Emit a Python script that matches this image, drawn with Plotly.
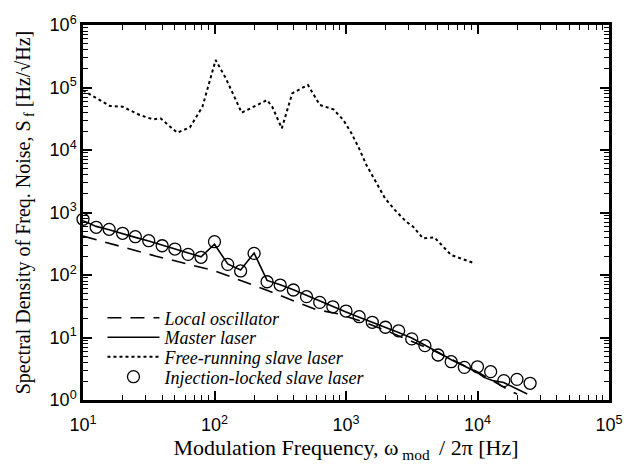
import plotly.graph_objects as go

# ---- data ----
lo_x = [10, 36, 100, 250, 590, 870, 1440, 2000, 4700, 10000, 17800, 20000]
lo_y = [420, 200, 117, 57, 28, 24, 17, 13, 6.1, 2.8, 1.39, 1.25]

master_x = [10, 12.6, 15.8, 20, 25, 31.6, 40, 50, 63, 79, 100, 126, 158, 200, 251, 316, 398,
            501, 631, 794, 1000, 1259, 1585, 1995, 2512, 3162, 3981, 5012, 6310, 7943, 10000,
            11200, 13000, 15800, 19950, 23900]
master_y = [740, 600, 530, 455, 400, 350, 300, 262, 222, 195, 310, 150, 120, 225, 82, 70, 58,
            47, 38, 31, 25.5, 21, 17.5, 14.5, 12, 9.8, 7.6, 5.8, 4.4, 3.5, 2.75,
            2.3, 2.05, 1.9, 1.5, 1.25]

free_x = [10, 16, 20, 27, 34, 39, 52, 65, 81, 102, 122, 161, 251, 275, 325, 390, 513, 632,
          803, 955, 1100, 1240, 1430, 1760, 1980, 2350, 2870, 3240, 3850, 4700, 5600, 6300, 9500]
free_y = [90000, 50600, 49300, 36300, 31000, 32000, 18900, 23000, 49300, 275000, 140000,
          39500, 63000, 49000, 22200, 80700, 110000, 52500, 44600, 30200, 18500, 11300, 5750,
          2590, 1690, 1100, 713, 593, 386, 400, 267, 209, 154]

inj_x = [10, 12.6, 15.8, 20, 25, 31.6, 40, 50, 63, 79, 100, 126, 158, 200, 251, 316, 398, 501,
         631, 794, 1000, 1259, 1585, 1995, 2512, 3162, 3981, 5012, 6310, 7943, 10000, 12589,
         15849, 19953, 25119]
inj_y = [778, 580, 538, 465, 410, 354, 294, 260, 214, 192, 341, 148, 116, 222, 78, 69, 57.5, 45,
         36.5, 31, 26.5, 21.5, 17.5, 14.6, 12.8, 9.5, 7.4, 5.25, 4.1, 3.33, 3.4, 2.84,
         2.04, 2.14, 1.85]

x_tickvals = [10, 100, 1000, 10000, 100000]
x_ticktext = ["10<sup>1</sup>", "10<sup>2</sup>", "10<sup>3</sup>", "10<sup>4</sup>", "10<sup>5</sup>"]
y_tickvals = [1, 10, 100, 1000, 10000, 100000, 1000000]
y_ticktext = ["10<sup>0</sup>", "10<sup>1</sup>", "10<sup>2</sup>", "10<sup>3</sup>",
              "10<sup>4</sup>", "10<sup>5</sup>", "10<sup>6</sup>"]

names = ["Local oscillator", "Master laser", "Free-running slave laser",
         "Injection-locked slave laser"]

minor_x = [m * 10 ** e for e in range(1, 5) for m in range(2, 10)]
minor_y = [m * 10 ** e for e in range(0, 6) for m in range(2, 10)]

SERIF = "Liberation Serif, Times New Roman, serif"
SANS = "Liberation Sans, Arial, sans-serif"

fig = go.Figure()
fig.add_trace(go.Scatter(x=lo_x, y=lo_y, mode="lines", name=names[0], legend="legend",
                         line=dict(color="black", width=1.6, dash="14px,9px")))
fig.add_trace(go.Scatter(x=master_x, y=master_y, mode="lines", name=names[1], legend="legend2",
                         line=dict(color="black", width=1.6)))
fig.add_trace(go.Scatter(x=free_x, y=free_y, mode="lines", name=names[2], legend="legend3",
                         line=dict(color="black", width=2, dash="dot")))
fig.add_trace(go.Scatter(x=inj_x, y=inj_y, mode="markers", name=names[3], legend="legend4",
                         cliponaxis=False,
                         marker=dict(symbol="circle-open", size=12, color="black",
                                     line=dict(width=1.3, color="black"))))

leg_common = dict(bgcolor="rgba(0,0,0,0)", borderwidth=0, itemwidth=52,
                  font=dict(family=SERIF, size=18, color="black", style="italic"),
                  xanchor="left", yanchor="middle", x=0.037,
                  itemclick=False, itemdoubleclick=False)
rows_px = [318, 337.5, 357, 377]
plot_top, plot_h = 25, 375
legs = {}
for i, key in enumerate(["legend", "legend2", "legend3", "legend4"]):
    d = dict(leg_common)
    d["y"] = 1 - (rows_px[i] - plot_top) / plot_h
    legs[key] = d

axis_common = dict(type="log", showgrid=False, zeroline=False, showline=True,
                   linecolor="black", linewidth=2.5, mirror="allticks",
                   ticks="inside", ticklen=9, tickwidth=1.5, tickcolor="black",
                   tickfont=dict(family=SANS, size=18, color="black"))

fig.update_layout(
    width=635, height=468,
    margin=dict(l=83, r=23, t=25, b=68),
    paper_bgcolor="white", plot_bgcolor="white",
    showlegend=True,
    **legs,
    xaxis=dict(axis_common, range=[1, 5], tickvals=x_tickvals, ticktext=x_ticktext,
               ticklabelstandoff=7,
               minor=dict(tickvals=minor_x, ticks="inside", ticklen=5, tickwidth=1.2,
                          tickcolor="black", showgrid=False),
               title=dict(text="Modulation Frequency, \u03c9<sub> mod </sub> / 2\u03c0 [Hz]",
                          font=dict(family=SERIF, size=22, color="black"), standoff=4)),
    yaxis=dict(axis_common, range=[0, 6], tickvals=y_tickvals, ticktext=y_ticktext,
               minor=dict(tickvals=minor_y, ticks="inside", ticklen=5, tickwidth=1.2,
                          tickcolor="black", showgrid=False),
               title=dict(text="Spectral Density of Freq. Noise, S<sub> f</sub> [Hz/\u221aHz]",
                          font=dict(family=SERIF, size=20, color="black"), standoff=14)),
)

fig.write_html("out.html")
